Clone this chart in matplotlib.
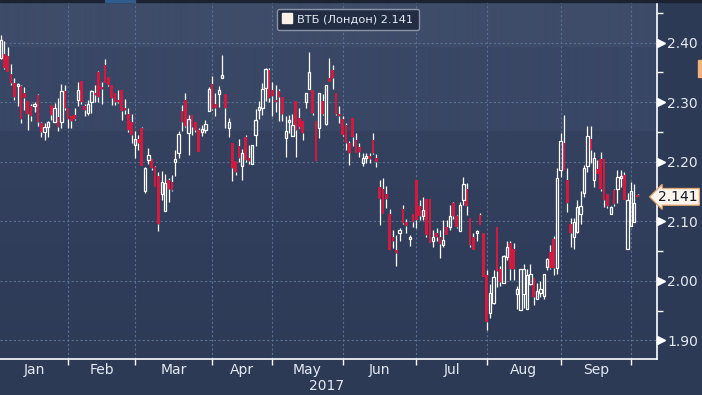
import matplotlib
matplotlib.use('Agg')
import matplotlib.pyplot as plt
import matplotlib.transforms as mtransforms
import numpy as np
from matplotlib.lines import Line2D
from matplotlib.patches import Rectangle

# daily OHLC (Jan .. early Oct 2017)
opens = [2.375, 2.381, 2.378, 2.348, 2.332, 2.327, 2.327, 2.316, 2.302, 2.294,
         2.293, 2.312, 2.265, 2.250, 2.259, 2.295, 2.266, 2.275, 2.267, 2.319,
         2.291, 2.277, 2.279, 2.303, 2.336, 2.294, 2.282, 2.301, 2.316, 2.351,
         2.326, 2.362, 2.342, 2.329, 2.315, 2.304, 2.321, 2.291, 2.281, 2.267,
         2.228, 2.239, 2.256, 2.151, 2.203, 2.204, 2.191, 2.176, 2.146, 2.118,
         2.169, 2.166, 2.200, 2.215, 2.285, 2.304, 2.249, 2.278, 2.267, 2.254,
         2.250, 2.253, 2.286, 2.331, 2.297, 2.313, 2.340, 2.313, 2.256, 2.231,
         2.201, 2.226, 2.192, 2.242, 2.207, 2.197, 2.245, 2.287, 2.291, 2.324,
         2.354, 2.320, 2.304, 2.319, 2.308, 2.240, 2.267, 2.244, 2.302, 2.274,
         2.268, 2.301, 2.323, 2.320, 2.268, 2.256, 2.302, 2.264, 2.340, 2.354,
         2.315, 2.281, 2.272, 2.262, 2.232, 2.273, 2.237, 2.224, 2.198, 2.206,
         2.210, 2.237, 2.206, 2.158, 2.155, 2.146, 2.113, 2.073, 2.052, 2.081,
         2.120, 2.099, 2.071, 2.113, 2.169, 2.126, 2.109, 2.137, 2.137, 2.067,
         2.081, 2.073, 2.060, 2.090, 2.090, 2.131, 2.108, 2.084, 2.135, 2.155,
         2.105, 2.073, 2.080, 2.110, 2.080, 2.010, 1.946, 1.963, 2.090, 2.019,
         1.997, 2.040, 2.064, 2.054, 1.978, 1.951, 1.978, 1.952, 1.995, 2.004,
         1.970, 1.979, 1.974, 2.023, 2.049, 2.071, 2.021, 2.186, 2.232, 2.170,
         2.095, 2.073, 2.082, 2.113, 2.148, 2.193, 2.238, 2.170, 2.187, 2.204,
         2.204, 2.146, 2.113, 2.152, 2.154, 2.172, 2.178, 2.053, 2.092, 2.099,
         2.143]
highs = [2.413, 2.402, 2.393, 2.365, 2.340, 2.333, 2.329, 2.326, 2.302, 2.297,
         2.301, 2.313, 2.266, 2.265, 2.269, 2.295, 2.298, 2.307, 2.331, 2.329,
         2.291, 2.277, 2.291, 2.334, 2.336, 2.297, 2.304, 2.321, 2.329, 2.353,
         2.334, 2.372, 2.343, 2.329, 2.315, 2.321, 2.321, 2.305, 2.290, 2.280,
         2.252, 2.245, 2.259, 2.191, 2.223, 2.204, 2.192, 2.183, 2.184, 2.180,
         2.172, 2.178, 2.220, 2.251, 2.295, 2.316, 2.278, 2.278, 2.267, 2.256,
         2.262, 2.270, 2.325, 2.344, 2.315, 2.327, 2.379, 2.313, 2.273, 2.231,
         2.201, 2.238, 2.222, 2.245, 2.228, 2.228, 2.288, 2.302, 2.333, 2.357,
         2.358, 2.334, 2.329, 2.323, 2.308, 2.277, 2.278, 2.281, 2.302, 2.291,
         2.268, 2.315, 2.384, 2.320, 2.268, 2.315, 2.313, 2.329, 2.375, 2.362,
         2.316, 2.294, 2.276, 2.265, 2.235, 2.273, 2.249, 2.232, 2.215, 2.215,
         2.215, 2.249, 2.213, 2.169, 2.172, 2.159, 2.120, 2.085, 2.077, 2.088,
         2.127, 2.103, 2.077, 2.113, 2.169, 2.136, 2.140, 2.137, 2.137, 2.085,
         2.088, 2.085, 2.102, 2.102, 2.127, 2.133, 2.110, 2.133, 2.174, 2.164,
         2.105, 2.080, 2.086, 2.114, 2.080, 2.018, 1.995, 2.018, 2.090, 2.024,
         2.043, 2.066, 2.066, 2.064, 1.991, 2.019, 2.029, 2.019, 2.029, 2.004,
         1.996, 1.999, 2.012, 2.039, 2.060, 2.075, 2.189, 2.248, 2.278, 2.189,
         2.105, 2.105, 2.136, 2.150, 2.194, 2.260, 2.260, 2.217, 2.203, 2.217,
         2.204, 2.146, 2.126, 2.155, 2.186, 2.186, 2.183, 2.147, 2.166, 2.162,
         2.145]
lows = [2.372, 2.355, 2.350, 2.329, 2.304, 2.294, 2.265, 2.287, 2.253, 2.269,
        2.284, 2.260, 2.241, 2.236, 2.241, 2.270, 2.266, 2.252, 2.256, 2.287,
        2.256, 2.256, 2.270, 2.293, 2.297, 2.276, 2.279, 2.282, 2.301, 2.301,
        2.297, 2.332, 2.327, 2.295, 2.295, 2.298, 2.270, 2.281, 2.250, 2.231,
        2.206, 2.220, 2.192, 2.148, 2.197, 2.186, 2.157, 2.084, 2.136, 2.118,
        2.133, 2.151, 2.176, 2.206, 2.252, 2.258, 2.211, 2.245, 2.250, 2.217,
        2.243, 2.248, 2.286, 2.287, 2.277, 2.292, 2.340, 2.257, 2.242, 2.168,
        2.177, 2.199, 2.169, 2.200, 2.196, 2.196, 2.227, 2.272, 2.278, 2.302,
        2.301, 2.277, 2.284, 2.268, 2.268, 2.208, 2.249, 2.244, 2.208, 2.256,
        2.236, 2.290, 2.323, 2.279, 2.201, 2.240, 2.279, 2.262, 2.334, 2.323,
        2.278, 2.265, 2.243, 2.219, 2.195, 2.227, 2.214, 2.208, 2.192, 2.198,
        2.198, 2.213, 2.191, 2.094, 2.112, 2.122, 2.052, 2.055, 2.025, 2.067,
        2.095, 2.080, 2.058, 2.091, 2.088, 2.102, 2.102, 2.074, 2.064, 2.057,
        2.066, 2.039, 2.057, 2.077, 2.086, 2.103, 2.088, 2.084, 2.127, 2.110,
        2.056, 2.051, 2.067, 2.094, 2.006, 1.918, 1.937, 1.961, 1.990, 1.991,
        1.996, 2.035, 2.002, 2.002, 1.952, 1.951, 1.954, 1.952, 1.993, 1.959,
        1.970, 1.972, 1.969, 2.018, 2.019, 2.010, 2.011, 2.175, 2.186, 2.116,
        2.057, 2.054, 2.081, 2.096, 2.141, 2.183, 2.198, 2.157, 2.179, 2.150,
        2.124, 2.123, 2.112, 2.126, 2.130, 2.157, 2.136, 2.053, 2.092, 2.099,
        2.141]
closes = [2.405, 2.357, 2.351, 2.333, 2.309, 2.330, 2.271, 2.307, 2.281, 2.277,
          2.297, 2.266, 2.250, 2.259, 2.266, 2.279, 2.291, 2.258, 2.319, 2.290,
          2.271, 2.269, 2.271, 2.321, 2.301, 2.287, 2.297, 2.318, 2.312, 2.309,
          2.322, 2.332, 2.329, 2.307, 2.301, 2.300, 2.285, 2.287, 2.253, 2.245,
          2.239, 2.232, 2.193, 2.189, 2.211, 2.189, 2.157, 2.095, 2.166, 2.165,
          2.154, 2.152, 2.204, 2.247, 2.266, 2.260, 2.271, 2.259, 2.253, 2.217,
          2.255, 2.263, 2.322, 2.288, 2.291, 2.321, 2.346, 2.291, 2.266, 2.190,
          2.183, 2.207, 2.214, 2.203, 2.201, 2.228, 2.270, 2.292, 2.323, 2.356,
          2.307, 2.311, 2.301, 2.308, 2.281, 2.252, 2.270, 2.262, 2.253, 2.259,
          2.249, 2.315, 2.351, 2.282, 2.201, 2.315, 2.280, 2.329, 2.334, 2.340,
          2.281, 2.276, 2.245, 2.231, 2.215, 2.242, 2.215, 2.217, 2.206, 2.210,
          2.204, 2.214, 2.200, 2.137, 2.112, 2.138, 2.052, 2.066, 2.047, 2.085,
          2.097, 2.092, 2.073, 2.099, 2.102, 2.108, 2.119, 2.077, 2.064, 2.073,
          2.073, 2.062, 2.068, 2.077, 2.109, 2.108, 2.090, 2.127, 2.163, 2.126,
          2.060, 2.052, 2.083, 2.094, 2.006, 1.931, 1.980, 2.006, 2.017, 1.998,
          2.042, 2.056, 2.019, 2.019, 1.986, 2.019, 2.019, 2.010, 2.011, 1.973,
          1.982, 1.987, 2.011, 2.036, 2.021, 2.021, 2.172, 2.234, 2.186, 2.130,
          2.081, 2.099, 2.124, 2.125, 2.189, 2.243, 2.219, 2.206, 2.179, 2.155,
          2.136, 2.126, 2.124, 2.129, 2.175, 2.176, 2.136, 2.135, 2.151, 2.130,
          2.141]

months = ['Jan', 'Feb', 'Mar', 'Apr', 'May', 'Jun', 'Jul', 'Aug', 'Sep']
month_first = [0, 20, 40, 63, 81, 102, 124, 145, 167, 188]  # index of first trading day
year_label = '2017'
y_ticks = [1.90, 2.00, 2.10, 2.20, 2.30, 2.40]
y_minor = [1.95, 2.05, 2.15, 2.25, 2.35, 2.45]
last_price = 2.141
series_name = 'ВТБ (Лондон) 2.141'

BG = '#2c3a55'
RED = '#d31a3e'
GRID = '#557090'
TXT = '#e4eaf3'

fig = plt.figure(figsize=(7.02, 3.95), dpi=100)
fig.patch.set_facecolor(BG)
ax = fig.add_axes([0, 36/395, 657/702, 359/395])

x0, x1 = -0.3, 195.8
y0, y1 = 1.8686, 2.4717
ax.set_xlim(x0, x1)
ax.set_ylim(y0, y1)

# banded/gradient background like the terminal
def hex2rgb(h):
    return np.array([int(h[i:i+2], 16) / 255 for i in (1, 3, 5)])
rows = []
for r in range(359):
    if r < 47:
        rows.append(hex2rgb('#3e4c69'))
    elif r < 131:
        rows.append(hex2rgb('#394765'))
    else:
        t = (r - 131) / 228
        rows.append(hex2rgb('#34415f') * (1 - t) + hex2rgb('#2e3b57') * t)
bg = np.array(rows).reshape(359, 1, 3)
ax.imshow(bg, extent=[x0, x1, y0, y1], aspect='auto', origin='upper', zorder=0)

# grid
ax.hlines(y_ticks, x0, x1, colors=GRID, linestyles=(0, (2, 2)), lw=0.8, zorder=1)
ax.vlines(month_first[1:], y0, y1, colors=GRID, linestyles=(0, (2, 2)), lw=0.8, zorder=1)

# candles
o = np.array(opens); h = np.array(highs); l = np.array(lows); c = np.array(closes)
x = np.arange(len(c))
up = c >= o
top = np.maximum(o, c)
bot = np.minimum(o, c)
ht = np.maximum(top - bot, 0.003)
ax.vlines(x, top, h, colors='white', lw=0.9, zorder=2)
ax.vlines(x, l, bot, colors='white', lw=0.9, zorder=2)
ax.bar(x[~up], ht[~up], bottom=bot[~up], width=0.8, color=RED, lw=0, zorder=3)
ax.bar(x[up], ht[up], bottom=bot[up], width=0.72, fill=False, edgecolor='white', lw=0.9, zorder=3)

# axes styling
for s in ['top', 'left']:
    ax.spines[s].set_visible(False)
ax.spines['right'].set_color('white')
ax.spines['bottom'].set_color('white')
ax.spines['right'].set_linewidth(1.2)
ax.spines['bottom'].set_linewidth(1.2)

ax.yaxis.tick_right()
ax.set_yticks(y_ticks)
ax.set_yticklabels(['%.2f' % v for v in y_ticks])
ax.set_yticks(y_minor, minor=True)
ax.tick_params(axis='y', which='major', length=0, pad=7.5, labelcolor=TXT, labelsize=10)
ax.tick_params(axis='y', which='minor', length=4, width=1, color='white')
tri = mtransforms.offset_copy(ax.get_yaxis_transform(), fig=fig, x=3.0, y=0, units='points')
ax.plot([1.0] * len(y_ticks), y_ticks, transform=tri, marker='>', ms=5.5,
        color='white', ls='none', clip_on=False, zorder=5)

mids = [(month_first[i] + month_first[i + 1]) / 2 for i in range(len(months))]
ax.set_xticks(month_first[1:])
ax.set_xticklabels([])
ax.set_xticks(mids, minor=True)
ax.set_xticklabels(months, minor=True)
ax.tick_params(axis='x', which='major', length=4, width=1, color='white', direction='out')
ax.tick_params(axis='x', which='minor', length=0, pad=3, labelcolor=TXT, labelsize=10)
ax.text(97.3, -0.075, year_label, transform=ax.get_xaxis_transform(),
        ha='center', va='center', color=TXT, fontsize=10)

# last price tag
ax.text(698/657, last_price, '%.3f' % last_price, transform=ax.get_yaxis_transform(),
        ha='right', va='center', fontsize=10, color='#141a28', zorder=6,
        bbox=dict(boxstyle='larrow,pad=0.1', fc='#fdf4ec', ec='#e3a26a', lw=0.9))

# legend
handle = Line2D([], [], marker='s', color='#fbefe8', ls='none', markersize=7.5, label=series_name)
leg = ax.legend(handles=[handle], loc='upper left', bbox_to_anchor=(271/657, 1 - 3/359),
                frameon=True, fontsize=8.2, handlelength=0.8, handletextpad=0.5,
                borderpad=0.5, labelcolor=TXT, fancybox=True)
leg.get_frame().set_facecolor('#222d44')
leg.get_frame().set_edgecolor('#8a93a3')
leg.get_frame().set_alpha(1)

# terminal chrome: thin dark top edge with a blue tab, orange tab at right edge
fig.patches.append(Rectangle((0, 1 - 1.5/395), 1, 1.5/395,
                             transform=fig.transFigure, color='#1c2232'))
fig.patches.append(Rectangle((105/702, 1 - 1.5/395), 30/702, 1.5/395,
                             transform=fig.transFigure, color='#2f5d8e'))
fig.patches.append(Rectangle((698/702, 1 - 77/395), 4/702, 17/395,
                             transform=fig.transFigure, color='#f2b27e'))

fig.savefig('out.png', dpi=100, facecolor=BG)
